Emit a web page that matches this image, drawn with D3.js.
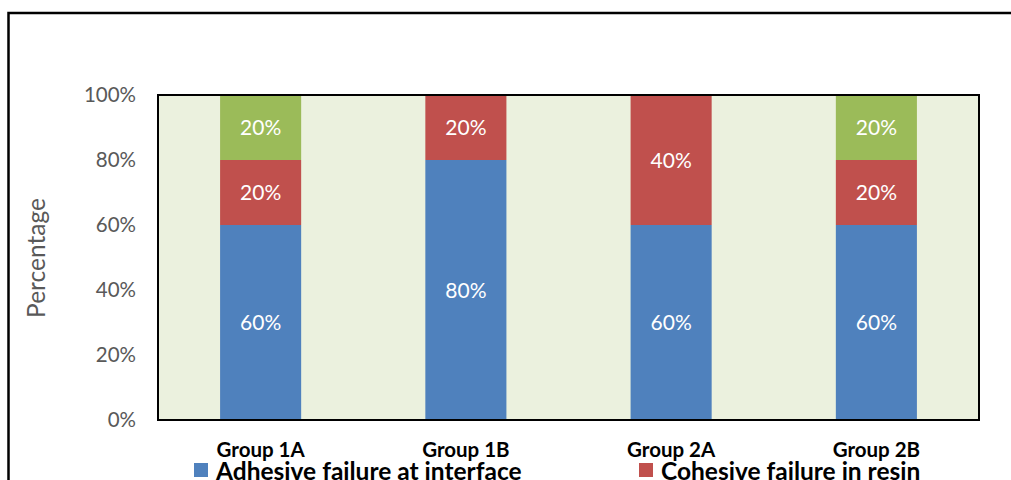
<!DOCTYPE html>
<html>
<head>
<meta charset="utf-8">
<script src="https://cdn.jsdelivr.net/npm/d3@7"></script>
<style>
    body { margin: 0; background: #fff; }
    svg { display: block; font-family: Lato, "Open Sans", sans-serif; }
</style>
</head>
<body>
<svg id="chart" width="1011" height="480"></svg>
<script>
// Daten
const groups = ['Group 1A', 'Group 1B', 'Group 2A', 'Group 2B'];
const adhesive = [60, 80, 60, 60];
const cohesive = [20, 20, 40, 20];
const mixed = [20, 0, 0, 20];
const seriesNames = ['Adhesive failure at interface', 'Cohesive failure in resin'];
const seriesColors = ['#4F81BD', '#C0504D', '#9BBB59'];
const yTicks = [0, 20, 40, 60, 80, 100];

const svg = d3.select('#chart');

// Rahmen um das Diagramm (rechts/unten abgeschnitten)
svg.append('rect')
    .attr('x', 8.5)
    .attr('y', 13)
    .attr('width', 1020)
    .attr('height', 500)
    .attr('fill', 'none')
    .attr('stroke', '#000')
    .attr('stroke-width', 2.5);

const plot = { left: 158, top: 95, right: 979, bottom: 420 };

const xScale = d3.scaleBand()
    .domain(groups)
    .range([plot.left, plot.right])
    .paddingInner(0.605)
    .paddingOuter(0.3025);

const yScale = d3.scaleLinear()
    .domain([0, 100])
    .range([plot.bottom, plot.top]);

// Hintergrund Plotflaeche
svg.append('rect')
    .attr('x', plot.left)
    .attr('y', plot.top)
    .attr('width', plot.right - plot.left)
    .attr('height', plot.bottom - plot.top)
    .attr('fill', '#EBF1DE');

// Gestapelte Balken
const rows = groups.map((g, i) => ({ group: g, a: adhesive[i], c: cohesive[i], m: mixed[i] }));
const stack = d3.stack().keys(['a', 'c', 'm'])(rows);

stack.forEach((layer, li) => {
    layer.forEach(d => {
        const v = d[1] - d[0];
        if (v <= 0) return;
        svg.append('rect')
            .attr('x', xScale(d.data.group))
            .attr('y', yScale(d[1]))
            .attr('width', xScale.bandwidth())
            .attr('height', yScale(d[0]) - yScale(d[1]))
            .attr('fill', seriesColors[li]);

        svg.append('text')
            .attr('x', xScale(d.data.group) + xScale.bandwidth() / 2)
            .attr('y', yScale((d[0] + d[1]) / 2))
            .attr('dy', '0.36em')
            .attr('text-anchor', 'middle')
            .style('font-size', '21px')
            .style('fill', '#fff')
            .text(v + '%');
    });
});

// Rahmen Plotflaeche
svg.append('rect')
    .attr('x', plot.left)
    .attr('y', plot.top)
    .attr('width', plot.right - plot.left)
    .attr('height', plot.bottom - plot.top)
    .attr('fill', 'none')
    .attr('stroke', '#000')
    .attr('stroke-width', 2);

// Y-Achse
const yAxis = d3.axisLeft(yScale)
    .tickValues(yTicks)
    .tickSize(0)
    .tickPadding(22)
    .tickFormat(d => d + '%');

svg.append('g')
    .attr('transform', `translate(${plot.left},0)`)
    .call(yAxis)
    .call(g => g.select('.domain').remove())
    .selectAll('text')
    .style('font-family', 'Lato, "Open Sans", sans-serif')
    .style('font-size', '20.5px')
    .style('fill', '#595959');

// X-Achse
const xAxis = d3.axisBottom(xScale).tickSize(0).tickPadding(22);

svg.append('g')
    .attr('transform', `translate(0,${plot.bottom})`)
    .call(xAxis)
    .call(g => g.select('.domain').remove())
    .selectAll('text')
    .style('font-family', 'Lato, "Open Sans", sans-serif')
    .style('font-size', '20.5px')
    .style('font-weight', 'bold')
    .style('fill', '#000');

// Y-Achsen-Titel
svg.append('text')
    .attr('transform', 'rotate(-90)')
    .attr('x', -258)
    .attr('y', 45)
    .attr('text-anchor', 'middle')
    .style('font-size', '24.5px')
    .style('fill', '#595959')
    .text('Percentage');

// Legende
const legendX = [194, 639];
seriesNames.forEach((name, i) => {
    svg.append('rect')
        .attr('x', legendX[i])
        .attr('y', 463)
        .attr('width', 14)
        .attr('height', 14)
        .attr('fill', seriesColors[i]);

    svg.append('text')
        .attr('x', legendX[i] + 22)
        .attr('y', 480)
        .style('font-size', '24.5px')
        .style('font-weight', 'bold')
        .style('fill', '#000')
        .text(name);
});
</script>
</body>
</html>
